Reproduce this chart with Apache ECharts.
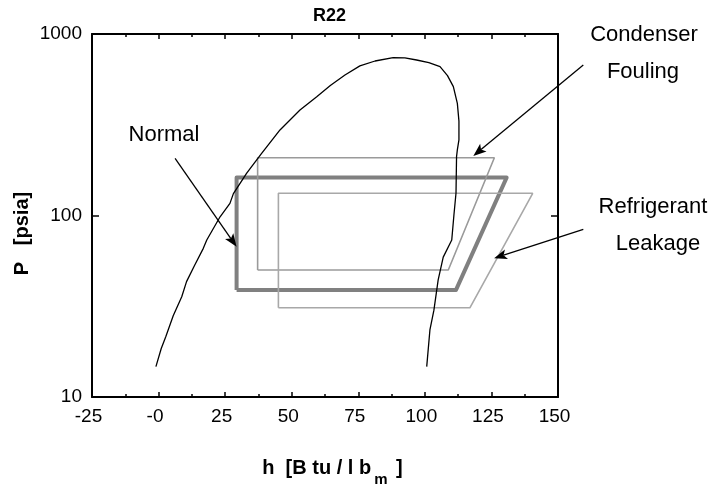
<!DOCTYPE html>
<html>
<head>
<meta charset="utf-8">
<script src="https://cdn.jsdelivr.net/npm/echarts@6/dist/echarts.min.js"></script>
<style>
  html, body { margin: 0; padding: 0; background: #fff; }
  #r22_chart { width: 712px; height: 487px; }
</style>
</head>
<body>
<div id="r22_chart"></div>
<script>
// saturation dome (h in Btu/lbm, P in psia)
var domeH = [-1, 1, 2.7, 5.5, 8.7, 10.5, 13.5, 16.8, 18.1, 23.1, 26.8, 28.1, 33.1, 38.7, 45.6, 53.1, 59.4, 64.5, 70, 75.6, 81.3, 88.1, 92.5, 96.9, 101.5, 105.7, 108.5, 110.7, 112.2, 112.8, 112.8, 112.2, 111.9, 111.7, 110.9, 110.1, 106.9, 105.0, 103.4, 101.9, 100.7];
var domeP = [14.7, 18.5, 21.5, 28, 35.7, 43.2, 53, 65.9, 73.3, 98.4, 116.6, 132, 171, 220, 296, 381, 451, 520, 594, 667, 710, 741, 738, 719, 695, 661, 590, 513, 415, 331, 261, 230, 211, 133, 100, 73.3, 59, 44.2, 30.1, 23.4, 14.7];

// cycles: bottom-left, top-left, top-right, bottom-right, closed
var normalH = [29.3, 29.3, 130.7, 111.7, 29.3];
var normalP = [38.9, 161.8, 161.8, 38.9, 38.9];
var foulingH = [37.2, 37.2, 126.1, 108.8, 37.2];
var foulingP = [50.1, 208, 208, 50.1, 50.1];
var leakageH = [45, 45, 140.5, 116.9, 45];
var leakageP = [31.0, 132.5, 132.5, 31.0, 31.0];

// annotation arrows: start h, start P, tip h, tip P
var arrowStartH = [6.2, 159.5, 159.5];
var arrowStartP = [206.6, 675, 83.9];
var arrowEndH = [29.3, 118.2, 126];
var arrowEndP = [67.3, 212.8, 58.1];

var FONT = "'Liberation Sans', Arial, Helvetica, sans-serif";

function zip(a, b) {
  return a.map(function (v, i) { return [v, b[i]]; });
}

var arrowData = arrowStartH.map(function (v, i) {
  return [v, arrowStartP[i], arrowEndH[i], arrowEndP[i]];
});

function renderArrow(params, api) {
  var p1 = api.coord([api.value(0), api.value(1)]);
  var p2 = api.coord([api.value(2), api.value(3)]);
  var dx = p2[0] - p1[0], dy = p2[1] - p1[1];
  var len = Math.sqrt(dx * dx + dy * dy);
  var ux = dx / len, uy = dy / len;
  var headLen = 13, headW = 5;
  var bx = p2[0] - ux * headLen, by = p2[1] - uy * headLen;
  var nx = bx + ux * 3, ny = by + uy * 3;
  return {
    type: "group",
    children: [
      { type: "line", shape: { x1: p1[0], y1: p1[1], x2: nx, y2: ny }, style: { stroke: "#000", lineWidth: 1.3 } },
      {
        type: "polygon",
        shape: { points: [p2, [bx - uy * headW, by + ux * headW], [nx, ny], [bx + uy * headW, by - ux * headW]] },
        style: { fill: "#000" }
      }
    ]
  };
}

var chart = echarts.init(document.getElementById("r22_chart"));

var xTickCommon = {
  type: "value",
  min: -25,
  max: 150,
  interval: 25,
  axisLine: { show: true, onZero: false, lineStyle: { color: "#000", width: 2 } },
  axisTick: { show: true, inside: true, length: 5, lineStyle: { color: "#000", width: 1.5 } },
  minorTick: { show: true, splitNumber: 2, length: 3, lineStyle: { color: "#000", width: 1.5 } },
  splitLine: { show: false }
};
var yTickCommon = {
  type: "log",
  logBase: 10,
  min: 10,
  max: 1000,
  axisLine: { show: true, onZero: false, lineStyle: { color: "#000", width: 2 } },
  axisTick: { show: true, inside: true, length: 7, lineStyle: { color: "#000", width: 1.5 } },
  splitLine: { show: false }
};

var option = {
  backgroundColor: "#fff",
  animation: false,
  title: {
    text: "R22",
    left: 313,
    top: 7,
    padding: 0,
    textStyle: { fontFamily: FONT, fontSize: 18, fontWeight: "bold", color: "#000" }
  },
  grid: { left: 92, right: 154, top: 34, bottom: 90, containLabel: false, outerBoundsMode: "none" },
  xAxis: [
    Object.assign({}, xTickCommon, {
      position: "bottom",
      name: "{b|h  [B tu / l b}{s|m}{b| ]}",
      nameLocation: "middle",
      nameGap: 61,
      nameMoveOverlap: false,
      nameTextStyle: {
        fontFamily: FONT,
        padding: [0, 0, 0, 15],
        rich: {
          b: { fontFamily: FONT, fontSize: 20, fontWeight: "bold", color: "#000", verticalAlign: "bottom", padding: [0, 0, 9, 0] },
          s: { fontFamily: FONT, fontSize: 15, fontWeight: "bold", color: "#000", verticalAlign: "bottom", padding: [0, 3, 0, 3] }
        }
      },
      axisLabel: {
        show: true,
        margin: 10,
        padding: [0, 7, 0, 0],
        fontFamily: FONT,
        fontSize: 19,
        color: "#000",
        formatter: function (v) { return v === 0 ? "-0" : String(v); }
      }
    }),
    Object.assign({}, xTickCommon, { position: "top", axisLabel: { show: false } })
  ],
  yAxis: [
    Object.assign({}, yTickCommon, {
      position: "left",
      name: "P   [psia]",
      nameLocation: "middle",
      nameGap: 60,
      nameMoveOverlap: false,
      nameTextStyle: {
        fontFamily: FONT,
        fontSize: 20,
        fontWeight: "bold",
        color: "#000",
        padding: [0, 36, 0, 0]
      },
      axisLabel: {
        show: true,
        margin: 10,
        fontFamily: FONT,
        fontSize: 19,
        color: "#000",
        padding: [0, 0, 4, 0],
        formatter: function (v) { return String(Math.round(v)); }
      }
    }),
    Object.assign({}, yTickCommon, { position: "right", axisLabel: { show: false } })
  ],
  graphic: [
    { type: "text", x: 164, y: 134.7, style: { text: "Normal", font: "22px " + FONT, fill: "#000", textAlign: "center", textVerticalAlign: "middle" } },
    { type: "text", x: 644, y: 34.5, style: { text: "Condenser", font: "22px " + FONT, fill: "#000", textAlign: "center", textVerticalAlign: "middle" } },
    { type: "text", x: 643, y: 71.7, style: { text: "Fouling", font: "22px " + FONT, fill: "#000", textAlign: "center", textVerticalAlign: "middle" } },
    { type: "text", x: 653, y: 206.7, style: { text: "Refrigerant", font: "22px " + FONT, fill: "#000", textAlign: "center", textVerticalAlign: "middle" } },
    { type: "text", x: 658, y: 244.2, style: { text: "Leakage", font: "22px " + FONT, fill: "#000", textAlign: "center", textVerticalAlign: "middle" } }
  ],
  series: [
    {
      name: "Normal",
      type: "line",
      data: zip(normalH, normalP),
      symbol: "none",
      silent: true,
      lineStyle: { color: "#808080", width: 4, join: "round" }
    },
    {
      name: "Condenser Fouling",
      type: "line",
      data: zip(foulingH, foulingP),
      symbol: "none",
      silent: true,
      lineStyle: { color: "#9a9a9a", width: 1.6 }
    },
    {
      name: "Refrigerant Leakage",
      type: "line",
      data: zip(leakageH, leakageP),
      symbol: "none",
      silent: true,
      lineStyle: { color: "#a8a8a8", width: 1.6 }
    },
    {
      name: "Saturation",
      type: "line",
      data: zip(domeH, domeP),
      symbol: "none",
      silent: true,
      lineStyle: { color: "#000", width: 1.3 }
    },
    {
      name: "arrows",
      type: "custom",
      renderItem: renderArrow,
      data: arrowData,
      encode: { x: [0, 2], y: [1, 3] },
      clip: false,
      silent: true,
      z: 5
    }
  ]
};

chart.setOption(option);
</script>
</body>
</html>
